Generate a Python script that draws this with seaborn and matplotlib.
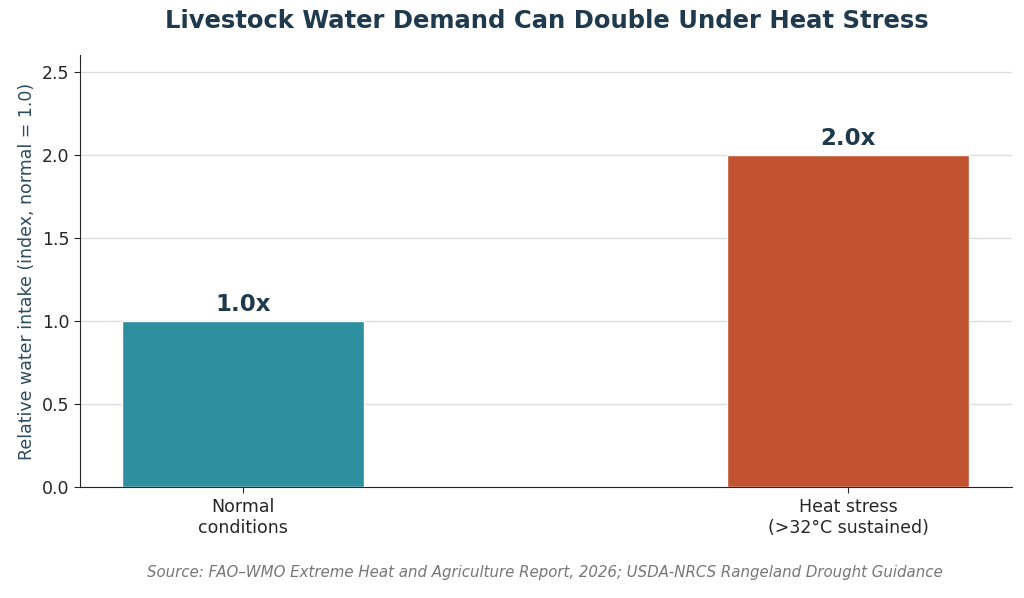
import matplotlib
matplotlib.use("Agg")
import matplotlib.pyplot as plt
import seaborn as sns
import pandas as pd

categories = ["Normal\nconditions", "Heat stress\n(>32°C sustained)"]
values = [1.0, 2.0]
labels = ["1.0x", "2.0x"]
colors = ["#2E8F9E", "#C0522F"]

sns.set_style("white")
plt.rcParams['font.family'] = 'sans-serif'
plt.rcParams['font.sans-serif'] = ['DejaVu Sans']

df = pd.DataFrame({"cat": categories, "val": values})
fig, ax = plt.subplots(figsize=(10.24, 5.98), dpi=100)
fig.subplots_adjust(left=0.078, right=0.988, top=0.908, bottom=0.185)

sns.barplot(data=df, x="cat", y="val", hue="cat", palette=colors, width=0.4,
            saturation=1, legend=False, ax=ax, zorder=3)
ax.set_xlim(-0.27, 1.27)
ax.set_ylim(0, 2.6)
ax.set_yticks([0, 0.5, 1.0, 1.5, 2.0, 2.5])
ax.yaxis.grid(True, color="#DDDDDD", linewidth=1, zorder=0)
ax.set_axisbelow(True)
for s in ["top", "right"]:
    ax.spines[s].set_visible(False)
ax.tick_params(axis="both", labelsize=12.5, length=4, left=True, bottom=True)
ax.set_xlabel("")
ax.set_ylabel("Relative water intake (index, normal = 1.0)", fontsize=12.5, color="#2C4A5E")

for i, (v, t) in enumerate(zip(values, labels)):
    ax.text(i, v + 0.03, t, ha="center", va="bottom", fontsize=16.5,
            fontweight="bold", color="#1F3A4D")

fig.suptitle("Livestock Water Demand Can Double Under Heat Stress", fontsize=17.5,
             fontweight="bold", color="#1F3A4D", x=0.534, y=0.985)
fig.text(0.532, 0.035, "Source: FAO–WMO Extreme Heat and Agriculture Report, 2026; USDA-NRCS Rangeland Drought Guidance",
         ha="center", fontsize=10.8, style="italic", color="#777777")

fig.savefig("out.png", dpi=100)
